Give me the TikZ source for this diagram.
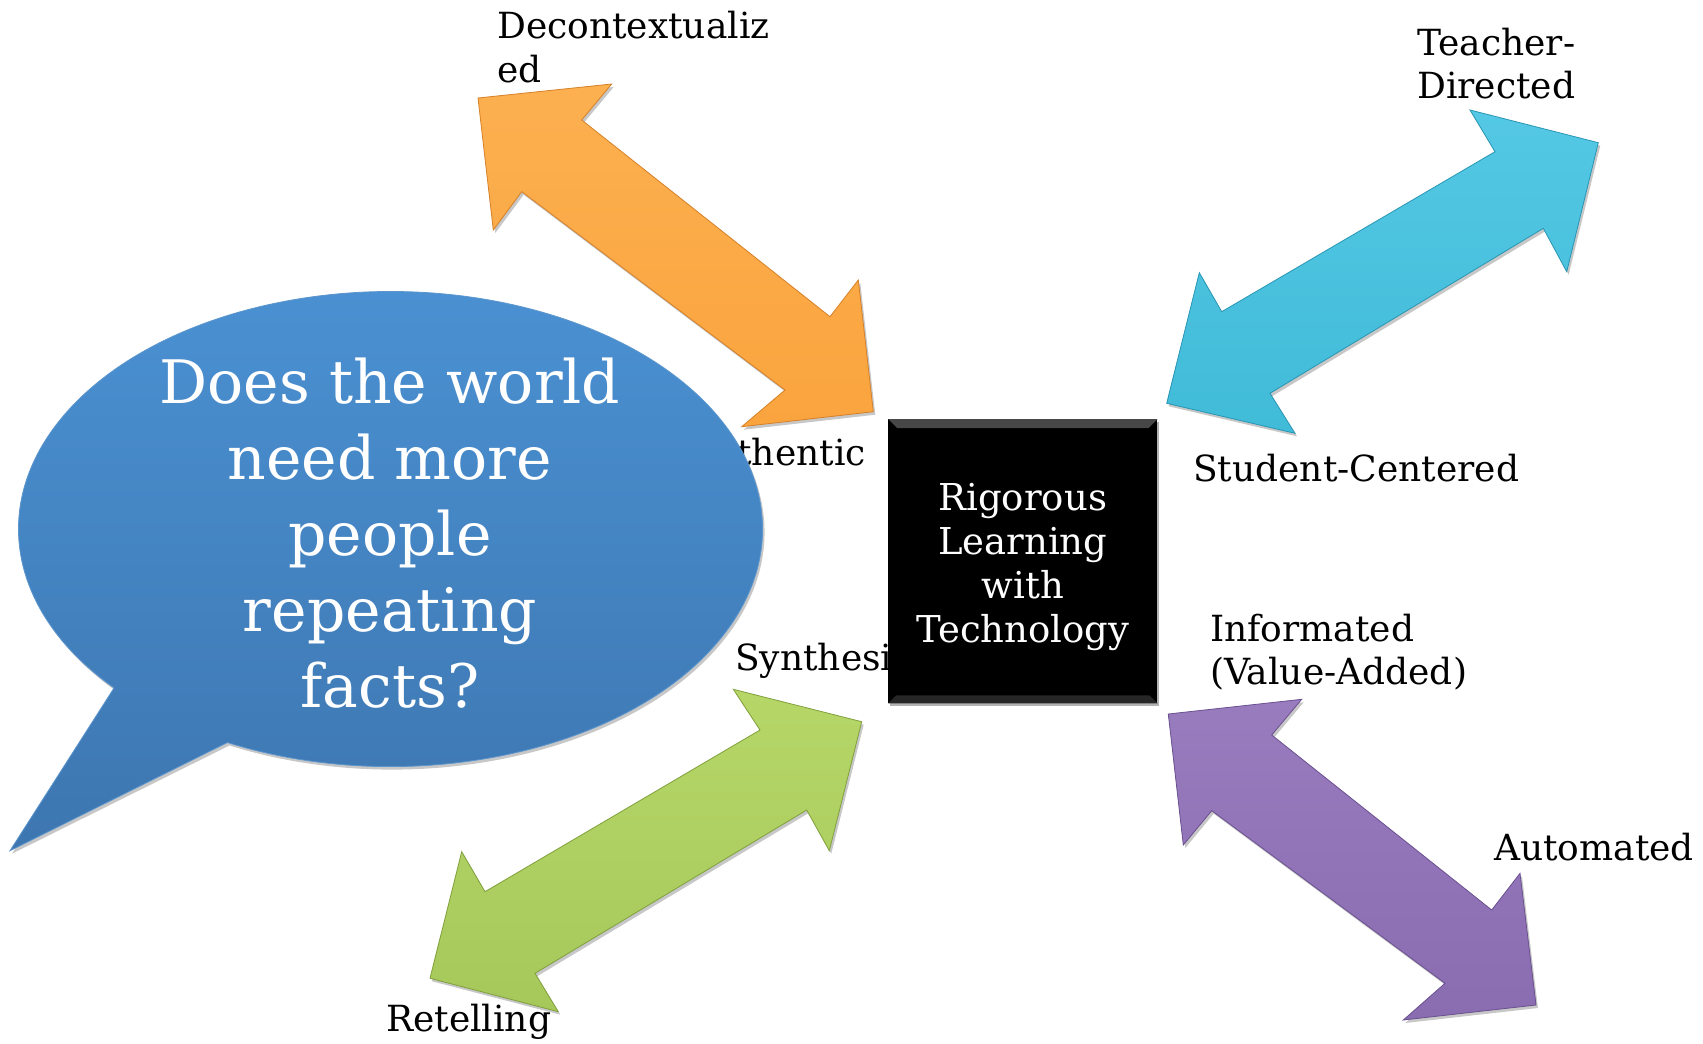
\documentclass[tikz,border=0pt]{standalone}
\usepackage{fontspec}
\setmainfont{DejaVu Serif}
\usetikzlibrary{shadows,calc}

\definecolor{orgfill}{RGB}{250,164,62}
\definecolor{orgtop}{RGB}{252,176,80}
\definecolor{orgedge}{RGB}{214,128,40}
\definecolor{cyanfill}{RGB}{64,187,216}
\definecolor{cyantop}{RGB}{84,200,228}
\definecolor{cyanedge}{RGB}{40,150,180}
\definecolor{grnfill}{RGB}{166,200,90}
\definecolor{grntop}{RGB}{182,214,104}
\definecolor{grnedge}{RGB}{128,160,60}
\definecolor{purfill}{RGB}{138,108,176}
\definecolor{purtop}{RGB}{152,124,190}
\definecolor{puredge}{RGB}{106,80,144}
\definecolor{bubtop}{RGB}{75,146,212}
\definecolor{bubbot}{RGB}{61,118,176}
\definecolor{bubedge}{RGB}{92,150,205}

\begin{document}
\begin{tikzpicture}[x=1pt,y=-1pt,
  lbl/.style={font=\fontsize{36}{43.5}\selectfont, inner sep=0pt, align=left, anchor=base west, text=black},
  dblarrow/.style n args={3}{top color=#1, bottom color=#2, draw=#3, line width=0.8pt, line join=miter,
    drop shadow={shadow xshift=2pt, shadow yshift=-3pt, opacity=0.22, fill=black}},
  corebox/.style={fill=black, inner sep=0pt, minimum width=269pt, minimum height=284pt,
    drop shadow={shadow xshift=2pt, shadow yshift=-3pt, opacity=0.3, fill=black}},
  coretext/.style={text=white, align=center, inner sep=0pt, anchor=base,
    font=\fontsize{37}{44}\selectfont},
  bubbletext/.style={text=white, align=center, inner sep=0pt, anchor=base,
    font=\fontsize{60}{76}\selectfont}]

% canvas
\useasboundingbox (0,0) rectangle (1703,1044);
\fill[white] (0,0) rectangle (1703,1044);

% pole labels (drawn first: the bubble and the box sit on top of two of them);
% a multi-line label is placed by the baseline of its last line
\node[lbl] (decon) at (497,82) {Decontextualiz\\ed};
\node[lbl] (teach) at (1417,98.5) {Teacher-\\Directed};
\node[lbl, anchor=base east] (auth) at (866,465) {Authentic};
\node[lbl] (stud) at (1193,481) {Student-Centered};
\node[lbl] (synth) at (735,670) {Synthesis};
\node[lbl] (inform) at (1210,684.5) {Informated\\(Value-Added)};
\node[lbl] (retell) at (386,1031) {Retelling};
\node[lbl] (auto) at (1494,860) {Automated};

% orange double arrow
\path[dblarrow={orgtop}{orgfill}{orgedge}]
  (478,98) -- (611.7,84) -- (581.7,120) -- (830,316.7) -- (858.3,280)
  -- (873.3,411.7) -- (741.7,426.7) -- (785,390) -- (521.7,191.7) -- (493.3,230) -- cycle;

% cyan double arrow
\path[dblarrow={cyantop}{cyanfill}{cyanedge}]
  (1598.3,142.7) -- (1566.7,271.7) -- (1543.3,228.3) -- (1270,393.3) -- (1295,433.3)
  -- (1166.7,403.3) -- (1199.3,272.7) -- (1221.7,311.7) -- (1495,151.7) -- (1470,110) -- cycle;

% green double arrow
\path[dblarrow={grntop}{grnfill}{grnedge}]
  (861.7,721.7) -- (829.3,850.7) -- (806.7,810) -- (535,973.3) -- (558.3,1011.7)
  -- (430,978.3) -- (461.7,851.7) -- (485,891.7) -- (760,730) -- (733.3,689.3) -- cycle;

% purple double arrow
\path[dblarrow={purtop}{purfill}{puredge}]
  (1168.3,714) -- (1301.7,699.3) -- (1271.7,735) -- (1491.7,910) -- (1520,873.3)
  -- (1536,1005) -- (1403.3,1020) -- (1445,983.3) -- (1211.7,810.7) -- (1183.3,845) -- cycle;

% speech bubble
\path[top color=bubtop, bottom color=bubbot, draw=bubedge, line width=0.8pt,
      drop shadow={shadow xshift=2pt, shadow yshift=-3pt, opacity=0.22, fill=black}]
  (227.4,742.5) arc[start angle=116, end angle=-222, x radius=372, y radius=237.5]
  -- (10,850.7) -- cycle;
\node[bubbletext] (question) at (390,707)
  {Does the world\\need more\\people\\repeating\\facts?};

% central box with a faint bevel along its top and bottom edges
\node[corebox] (core) at (1022.8,561.2) {};
\fill[black!72] (core.north west) -- (core.north east) -- ($(core.north east)+(-9,9)$)
  -- ($(core.north west)+(9,9)$) -- cycle;
\fill[black!85] (core.south west) -- (core.south east) -- ($(core.south east)+(-8,-8)$)
  -- ($(core.south west)+(8,-8)$) -- cycle;
\node[coretext] (coretitle) at (core.center |- 0,642) {Rigorous\\Learning\\with\\Technology};

\end{tikzpicture}
\end{document}
